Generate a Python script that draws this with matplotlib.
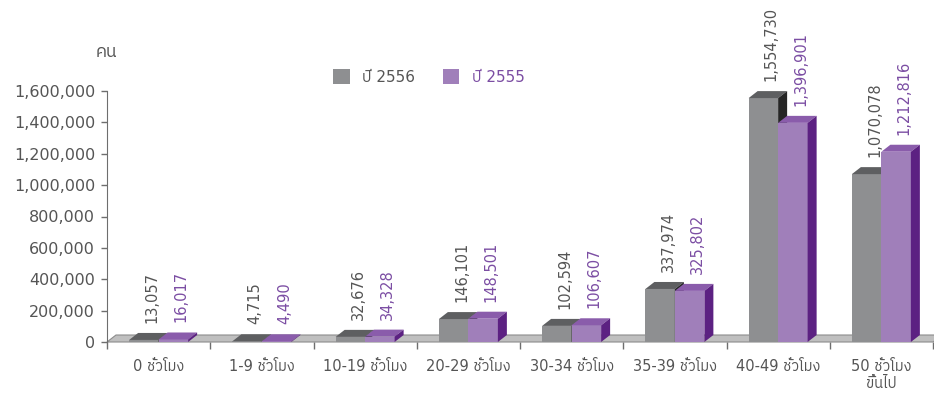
"""
Working hours chart, 2556 vs 2555 (pseudo 3D bars)
"""
import matplotlib
matplotlib.use('Agg')
import matplotlib.pyplot as plt
from matplotlib import font_manager
from matplotlib.ft2font import FT2Font
from matplotlib.patches import Polygon, Rectangle

categories = ['0 ชั่วโมง', '1-9 ชั่วโมง', '10-19 ชั่วโมง', '20-29 ชั่วโมง',
              '30-34 ชั่วโมง', '35-39 ชั่วโมง', '40-49 ชั่วโมง', '50 ชั่วโมง\nขึ้นไป']
y2556 = [13057, 4715, 32676, 146101, 102594, 337974, 1554730, 1070078]
y2555 = [16017, 4490, 34328, 148501, 106607, 325802, 1396901, 1212816]
yticks = [0, 200000, 400000, 600000, 800000, 1000000, 1200000, 1400000, 1600000]
series_names = ['ปี 2556', 'ปี 2555']


def find_thai_font():
    """ return the name of an installed font with Thai glyphs, if any """
    fonts = sorted(font_manager.fontManager.ttflist, key=lambda f: 'Thai' not in f.name)
    for f in fonts:
        try:
            if 0x0E0A in FT2Font(f.fname).get_charmap():
                return f.name
        except Exception:
            pass
    return None


thai = find_thai_font()
families = ['DejaVu Sans'] + ([thai] if thai else [])
plt.rcParams['font.family'] = families

W, H = 934, 404
fig = plt.figure(figsize=(W / 100, H / 100), dpi=100)
ax_l, ax_r, y0_px, y16_px = 107, 933, 342, 91
ax = fig.add_axes([ax_l / W, (H - y0_px) / H, (ax_r - ax_l) / W, y0_px / H])

px_x = (ax_r - ax_l) / len(categories)          # px per category
px_y = (y0_px - y16_px) / 1600000               # px per value unit
ax.set_xlim(0, len(categories))
ax.set_ylim(0, y0_px / px_y)

dx, dy = 9 / px_x, 7 / px_y                     # depth of the fake 3D
bw = 29.5 / px_x

styles = [dict(front='#8e8f91', top='#5e5f61', side='#262626', text='#555555'),
          dict(front='#a07fba', top='#8a5cab', side='#5c2182', text='#7b4da3')]

# floor
ax.add_patch(Polygon([(0, 0), (len(categories), 0), (len(categories) + dx, dy), (dx, dy)],
                     closed=True, fc='#bfbfbf', ec='#8c8c8c', lw=0.8, clip_on=False, zorder=1))

for i in range(len(categories)):
    c = i + 0.5
    for k, vals in enumerate([y2556, y2555]):
        st = styles[k]
        x0 = c - bw + k * bw
        x1 = x0 + bw
        h = vals[i]
        z = 2 + k
        ax.add_patch(Rectangle((x0, 0), bw, h, fc=st['front'], ec='none', zorder=z))
        ax.add_patch(Polygon([(x0, h), (x1, h), (x1 + dx, h + dy), (x0 + dx, h + dy)],
                             closed=True, fc=st['top'], ec='none', zorder=z))
        ax.add_patch(Polygon([(x1, 0), (x1 + dx, dy), (x1 + dx, h + dy), (x1, h)],
                             closed=True, fc=st['side'], ec='none', zorder=z))
        ax.text(x0 + bw / 2 + 8 / px_x, h + dy + 10 / px_y, f'{h:,}', rotation=90,
                ha='center', va='bottom', fontsize=10.5, color=st['text'], zorder=5,
                clip_on=False)

# axes styling
for s in ['top', 'right', 'bottom']:
    ax.spines[s].set_visible(False)
ax.spines['left'].set_bounds(0, 1600000)
ax.spines['left'].set_color('#6e6e6e')
ax.spines['left'].set_zorder(6)

ax.set_yticks(yticks)
ax.set_yticklabels([f'{v:,}' for v in yticks])
ax.tick_params(axis='y', length=4.5, width=1, color='#6e6e6e', labelcolor='#555555',
               labelsize=11.5, pad=4)

ax.set_xticks(range(len(categories) + 1))
ax.set_xticklabels([])
ax.tick_params(axis='x', which='major', length=5, width=1, color='#6e6e6e')
ax.set_xticks([i + 0.5 for i in range(len(categories))], minor=True)
ax.set_xticklabels(categories, minor=True)
ax.tick_params(axis='x', which='minor', length=0, pad=12, labelsize=10.5,
               labelcolor='#555555')
ax.patch.set_visible(False)

fig.text(106 / W, 1 - 52 / H, 'คน', ha='center', va='center', fontsize=12.5, color='#555555')

handles = [Rectangle((0, 0), 1, 1, fc=st['front'], ec='none') for st in styles]
leg = fig.legend(handles, series_names, loc='center left', ncol=2, frameon=False,
                 bbox_to_anchor=(333 / W, 1 - 77 / H), borderpad=0, borderaxespad=0,
                 handlelength=1.1, handleheight=1.1, handletextpad=0.8,
                 columnspacing=1.8, fontsize=11)
for t, st in zip(leg.get_texts(), styles):
    t.set_color(st['text'])

fig.savefig('out.png', dpi=100)
